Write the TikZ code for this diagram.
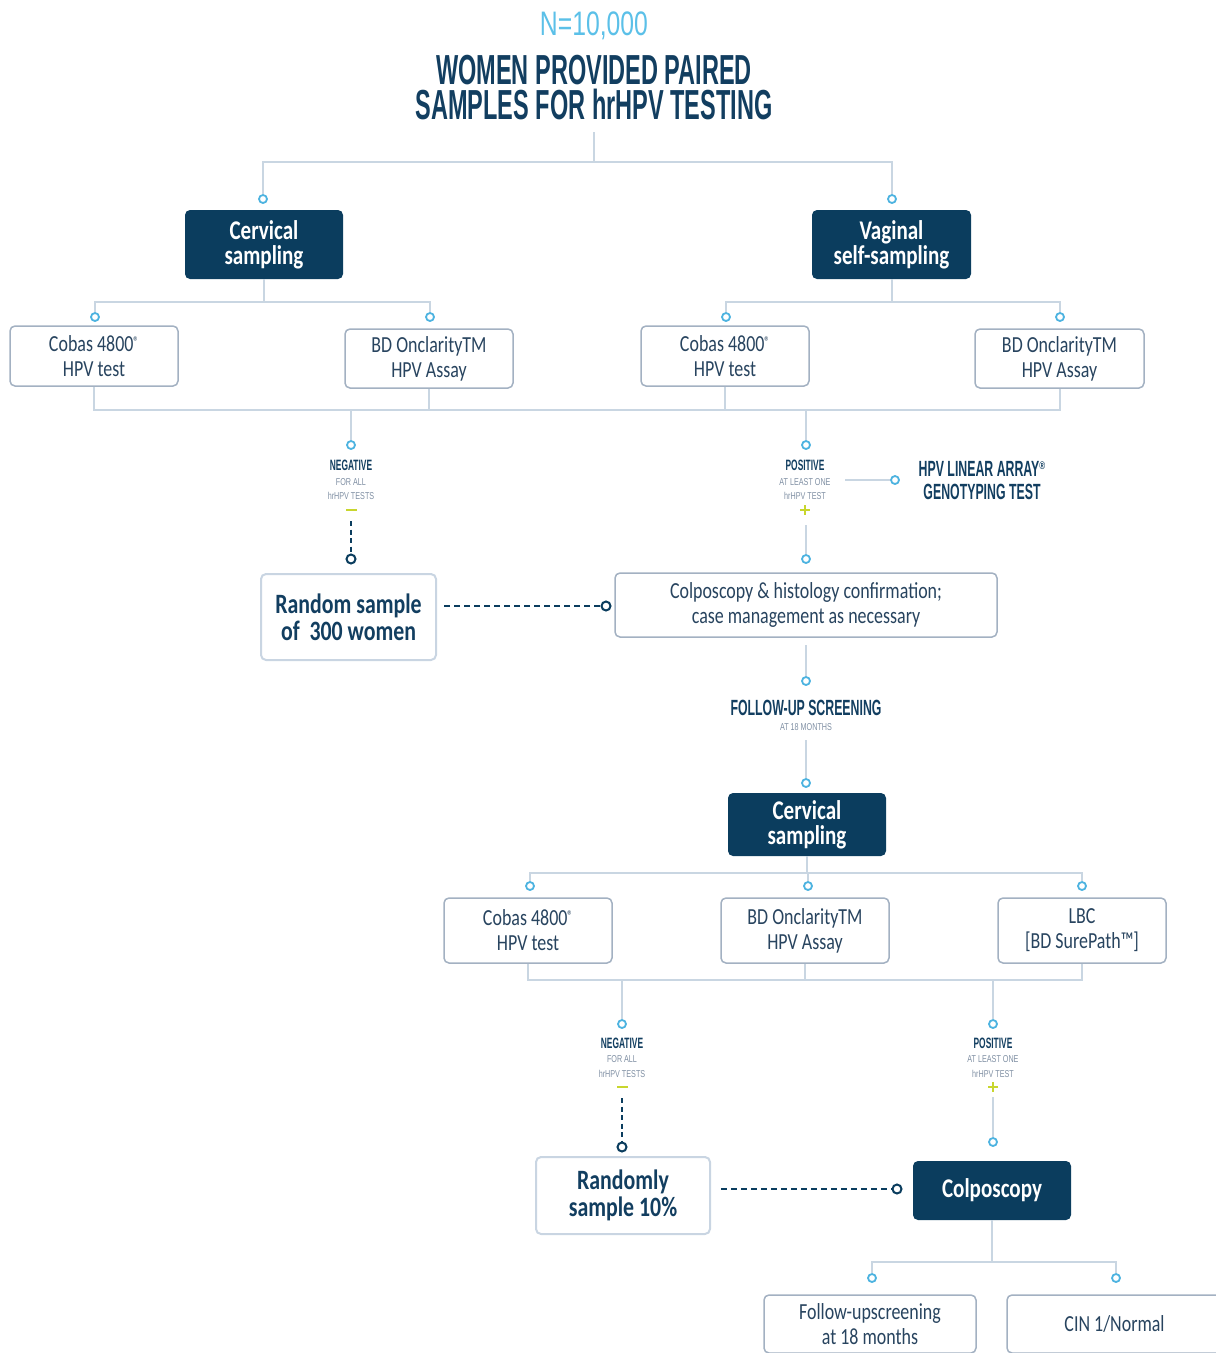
\documentclass[tikz,border=0pt]{standalone}
\usepackage{fontspec}
\newfontfamily\tfont{Liberation Sans}[FakeStretch=0.56]
\newfontfamily\smfont{Liberation Sans}[FakeStretch=0.72]
\newfontfamily\bfont{Carlito}[FakeStretch=0.78]
\definecolor{navy}{HTML}{0B3D5E}
\definecolor{navytext}{HTML}{123E60}
\definecolor{boxtext}{HTML}{28445F}
\definecolor{lineblue}{HTML}{C9D6E2}
\definecolor{dotblue}{HTML}{4DB3E0}
\definecolor{nblue}{HTML}{5BC0E8}
\definecolor{boxgrey}{HTML}{A3B1C2}
\definecolor{lightgrey}{HTML}{C9D5E2}
\definecolor{smallgrey}{HTML}{7F8FA3}
\definecolor{lime}{HTML}{C8D62E}
\tikzset{
  conn/.style={draw=lineblue, line width=2pt},
  dot/.style={circle, draw=dotblue, fill=white, line width=1.8pt, minimum size=8pt, inner sep=0pt},
  ddot/.style={circle, draw=navy, fill=white, line width=2pt, minimum size=9pt, inner sep=0pt},
  dashconn/.style={draw=navy, line width=2.8pt, dash pattern=on 6pt off 4pt},
  lbox/.style={draw=boxgrey, line width=1.5pt, rounded corners=5pt, fill=white, align=center,
    text=boxtext, font=\bfont\fontsize{23}{25}\selectfont, inner sep=0pt},
  rbox/.style={draw=lightgrey, line width=2pt, rounded corners=5pt, fill=white, align=center,
    text=navytext, font=\bfont\bfseries\fontsize{28}{27}\selectfont, inner sep=0pt},
  dbox/.style={fill=navy, rounded corners=5pt, align=center, text=white,
    font=\bfont\bfseries\fontsize{27}{25}\selectfont, inner sep=0pt},
  bigcap/.style={anchor=base, text=navytext, font=\tfont\bfseries\fontsize{22}{22}\selectfont, inner sep=0pt},
  midcap/.style={anchor=base, text=navytext, font=\tfont\bfseries\fontsize{15}{15}\selectfont, inner sep=0pt},
  tinycap/.style={anchor=base, text=smallgrey, font=\smfont\fontsize{10}{10}\selectfont, inner sep=0pt},
  signmark/.style={draw=lime, line width=2pt}
}
\newcommand{\regmark}{\raisebox{5pt}{\fontsize{14}{14}\selectfont ®}}
\begin{document}
\begin{tikzpicture}[x=1pt,y=-1pt]
\useasboundingbox (0,0) rectangle (1216,1353);
% title
\node[anchor=base, text=nblue, font=\tfont\fontsize{34}{34}\selectfont, inner sep=0pt] (n) at (594,35) {\scalebox{1.3}[1]{N=10,000}};
\node[anchor=base, text=navytext, font=\tfont\bfseries\fontsize{42}{42}\selectfont, inner sep=0pt] (t1) at (594,84) {WOMEN PROVIDED PAIRED};
\node[anchor=base, text=navytext, font=\tfont\bfseries\fontsize{42}{42}\selectfont, inner sep=0pt] (t2) at (594,119) {SAMPLES FOR hrHPV TESTING};
\coordinate (tb) at (594,132);
\coordinate (j1) at (594,162);
\node[dot] (c1) at (263,199) {};
\node[dot] (c2) at (892,199) {};
\draw[conn] (tb) -- (j1) -| (c1);
\draw[conn] (j1) -| (c2);
% first level
\node[dbox, minimum width=158pt, minimum height=69pt] (cs) at (264,244.5) {Cervical\\sampling};
\node[dbox, minimum width=159pt, minimum height=69pt] (vs) at (891.5,244.5) {Vaginal\\self-sampling};
\coordinate (j2) at (264,302);
\coordinate (j3) at (891.5,302);
\node[dot] (d1) at (95,317) {};
\node[dot] (d2) at (430,317) {};
\node[dot] (d3) at (726,317) {};
\node[dot] (d4) at (1060,317) {};
\draw[conn] (cs.south) -- (j2);
\draw[conn] (d1) |- (j2) -| (d2);
\draw[conn] (vs.south) -- (j3);
\draw[conn] (d3) |- (j3) -| (d4);
% tests
\node[lbox, minimum width=168pt, minimum height=60pt] (b1) at (94,356) {Cobas 4800\regmark\\HPV test};
\node[lbox, minimum width=168pt, minimum height=59pt] (b2) at (429,358.5) {BD OnclarityTM\\HPV Assay};
\node[lbox, minimum width=168pt, minimum height=60pt] (b3) at (725,356) {Cobas 4800\regmark\\HPV test};
\node[lbox, minimum width=169pt, minimum height=59pt] (b4) at (1059.5,358.5) {BD OnclarityTM\\HPV Assay};
\coordinate (hL) at (94,410);
\coordinate (hR) at (1059.5,410);
\draw[conn] (b1.south) -- (hL) -- (hR) -- (b4.south);
\draw[conn] (b2.south) -- (b2.south |- hL);
\draw[conn] (b3.south) -- (b3.south |- hL);
\node[dot] (neg1) at (351,445) {};
\node[dot] (pos1) at (806,445) {};
\draw[conn] (neg1 |- hL) -- (neg1);
\draw[conn] (pos1 |- hL) -- (pos1);
% negative 1
\node[midcap] (ng1) at (351,470) {NEGATIVE};
\node[tinycap] (ng1a) at (351,485) {FOR ALL};
\node[tinycap] (ng1b) at (351,499) {hrHPV TESTS};
\draw[signmark] (346,510) -- (357,510);
\coordinate (nd1s) at (351,521);
\node[ddot] (nd1) at (351,559) {};
\draw[dashconn, dash pattern=on 5pt off 3.5pt] (nd1s) -- (nd1);
% positive 1
\node[midcap] (ps1) at (805,470) {POSITIVE};
\node[tinycap] (ps1a) at (805,485) {AT LEAST ONE};
\node[tinycap] (ps1b) at (805,499) {hrHPV TEST};
\draw[signmark] (800,510) -- (810,510) (805,505) -- (805,515);
\coordinate (pd1s) at (806,525);
\node[dot] (pd1) at (806,559) {};
\draw[conn] (pd1s) -- (pd1);
\coordinate (hla) at (845,480);
\node[dot] (hd) at (895,480) {};
\draw[conn] (hla) -- (hd);
\node[bigcap] (hl1) at (982,476) {HPV LINEAR ARRAY\raisebox{7pt}{\smfont\fontsize{11}{11}\selectfont ®}};
\node[bigcap] (hl2) at (982,499) {GENOTYPING TEST};
% second row
\node[rbox, minimum width=175pt, minimum height=86pt] (rs) at (348.5,617) {Random sample\\of\ \ 300 women};
\node[lbox, minimum width=382pt, minimum height=64pt] (cp) at (806,605) {Colposcopy \& histology confirmation;\\case management as necessary};
\coordinate (rse) at (444,606);
\node[ddot] (dd1) at (606,606) {};
\draw[dashconn] (rse) -- (dd1);
% follow-up
\coordinate (cps) at (806,645);
\node[dot] (fu1) at (806,681) {};
\draw[conn] (cps) -- (fu1);
\node[bigcap] (fut) at (806,715) {FOLLOW-UP SCREENING};
\node[tinycap] (fut2) at (806,730) {AT 18 MONTHS};
\coordinate (fus) at (806,740);
\node[dot] (fu2) at (806,783) {};
\draw[conn] (fus) -- (fu2);
\node[dbox, minimum width=158pt, minimum height=63pt] (cs2) at (807,824.5) {Cervical\\sampling};
\coordinate (j4) at (807,873);
\node[dot] (e1) at (530,886) {};
\node[dot] (e2) at (808,886) {};
\node[dot] (e3) at (1082,886) {};
\draw[conn] (cs2.south) -- (j4);
\draw[conn] (e1) |- (j4) -| (e3);
\draw[conn] (j4) -| (e2);
\node[lbox, minimum width=168pt, minimum height=65pt] (f1) at (528,930.5) {Cobas 4800\regmark\\HPV test};
\node[lbox, minimum width=168pt, minimum height=65pt] (f2) at (805,930.5) {BD OnclarityTM\\HPV Assay};
\node[lbox, minimum width=168pt, minimum height=65pt] (f3) at (1082,930.5) {LBC\\{[}BD SurePath™{]}};
\coordinate (kL) at (528,980);
\coordinate (kR) at (1082,980);
\draw[conn] (f1.south) -- (kL) -- (kR) -- (f3.south);
\draw[conn] (f2.south) -- (f2.south |- kL);
\node[dot] (neg2) at (622,1024) {};
\node[dot] (pos2) at (993,1024) {};
\draw[conn] (neg2 |- kL) -- (neg2);
\draw[conn] (pos2 |- kL) -- (pos2);
% negative 2
\node[midcap] (ng2) at (622,1048) {NEGATIVE};
\node[tinycap] (ng2a) at (622,1062) {FOR ALL};
\node[tinycap] (ng2b) at (622,1077) {hrHPV TESTS};
\draw[signmark] (617,1087) -- (628,1087);
\coordinate (nd2s) at (622,1098);
\node[ddot] (nd2) at (622,1147) {};
\draw[dashconn, dash pattern=on 5pt off 3.5pt] (nd2s) -- (nd2);
% positive 2
\node[midcap] (ps2) at (993,1048) {POSITIVE};
\node[tinycap] (ps2a) at (993,1062) {AT LEAST ONE};
\node[tinycap] (ps2b) at (993,1077) {hrHPV TEST};
\draw[signmark] (988,1087) -- (998,1087) (993,1082) -- (993,1092);
\coordinate (pd2s) at (993,1097);
\node[dot] (pd2) at (993,1142) {};
\draw[conn] (pd2s) -- (pd2);
% third row
\node[rbox, minimum width=174pt, minimum height=77pt] (rs2) at (623,1195.5) {Randomly\\sample 10\%};
\node[dbox, minimum width=158pt, minimum height=59pt] (col) at (992,1190.5) {Colposcopy};
\coordinate (rs2e) at (721,1189);
\node[ddot] (dd2) at (897,1189) {};
\draw[dashconn] (rs2e) -- (dd2);
\coordinate (j5) at (992,1262);
\node[dot] (g1) at (872,1278) {};
\node[dot] (g2) at (1116,1278) {};
\draw[conn] (col.south) -- (j5);
\draw[conn] (g1) |- (j5) -| (g2);
\node[lbox, minimum width=212pt, minimum height=58pt] (h1) at (870,1324) {Follow-upscreening\\at 18 months};
\node[lbox, minimum width=215pt, minimum height=58pt] (h2) at (1114.5,1324) {CIN 1/Normal};
\end{tikzpicture}
\end{document}
